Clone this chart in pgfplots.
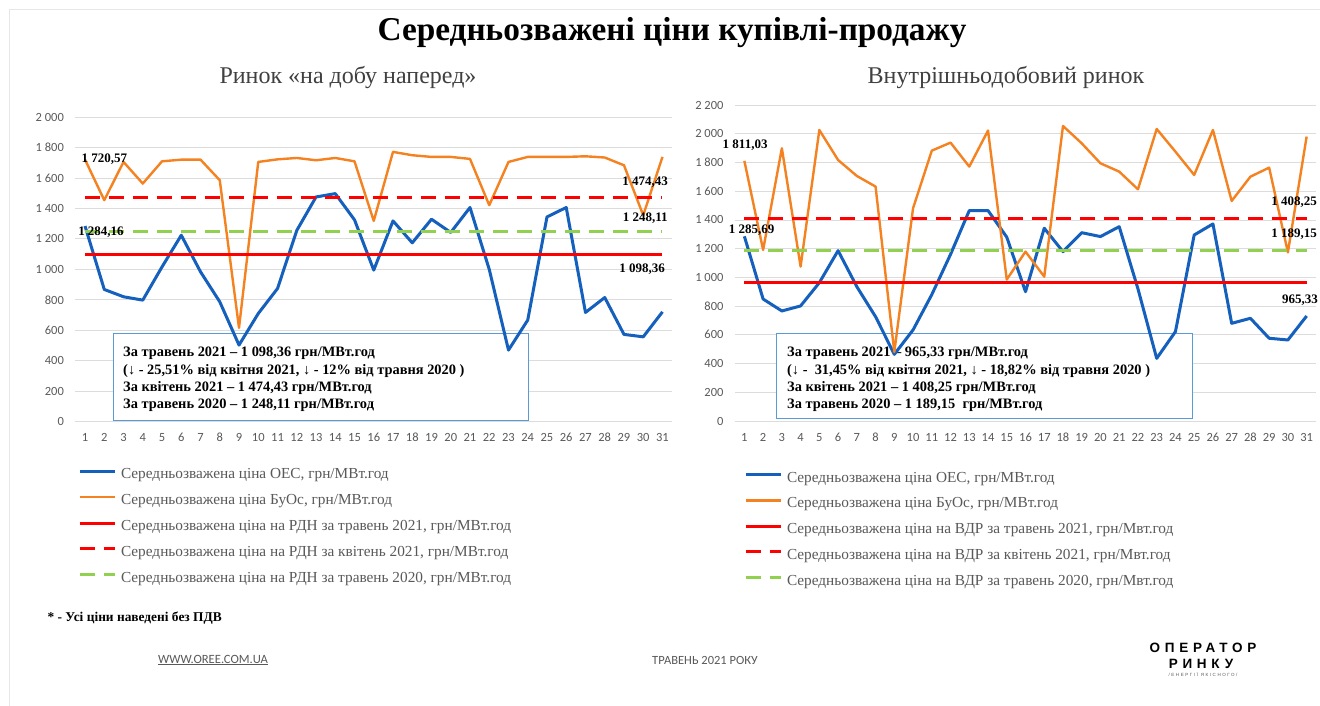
\documentclass[border=0pt]{standalone}
\usepackage{fontspec}
\setmainfont{Liberation Serif}
\newfontfamily\tickfont{Carlito}
\newfontfamily\footfont{Carlito}
\newfontfamily\logofont[LetterSpace=35]{Liberation Sans}
\usepackage{pgfplots}
\usepackage{pgfplotstable}
\pgfplotsset{compat=1.18}
\definecolor{oes}{RGB}{21,96,189}
\definecolor{buos}{RGB}{245,130,32}
\definecolor{redl}{RGB}{255,0,0}
\definecolor{greenl}{RGB}{146,208,80}
\definecolor{gridc}{RGB}{220,220,220}
\definecolor{tickc}{RGB}{89,89,89}
\definecolor{boxc}{RGB}{91,155,213}

\pgfplotstableread{
day oes buos
1 1284.16 1720.57
2 868 1454
3 820 1705
4 798 1563
5 1016 1709
6 1224 1720
7 984 1720
8 787 1585
9 503 616
10 710 1705
11 874 1722
12 1255 1731
13 1475 1716
14 1497 1731
15 1325 1709
16 995 1318
17 1318 1771
18 1174 1749
19 1329 1738
20 1242 1738
21 1406 1725
22 1000 1421
23 470 1705
24 667 1738
25 1344 1738
26 1406 1738
27 717 1742
28 815 1734
29 573 1683
30 557 1355
31 721 1738
}\rdn

\pgfplotstableread{
day oes buos
1 1285.69 1811.03
2 849 1191
3 766 1899
4 801 1075
5 963 2026
6 1186 1817
7 935 1706
8 726 1632
9 464 480
10 634 1481
11 880 1882
12 1160 1938
13 1465 1771
14 1465 2022
15 1280 985
16 900 1179
17 1342 1005
18 1179 2054
19 1311 1933
20 1284 1794
21 1353 1736
22 920 1613
23 436 2033
24 622 1875
25 1295 1713
26 1372 2026
27 680 1532
28 715 1701
29 576 1764
30 564 1174
31 731 1980
}\vdr

\tikzset{lab/.style={font=\bfseries\fontsize{13}{13}\selectfont, inner sep=0pt}}
\pgfplotsset{
  mystyle/.style={
    scale only axis,
    xmin=0.5, xmax=31.5, ymin=0,
    axis line style={draw=none},
    major tick length=0pt,
    ymajorgrids, grid style={draw=gridc, line width=0.8pt},
    xtick={1,...,31},
    tick label style={font=\tickfont\fontsize{12.5}{12.5}\selectfont, text=tickc},
    /pgf/number format/assume math mode=true,
    /pgf/number format/1000 sep={\ },
    yticklabel style={xshift=-8pt},
    xticklabel style={yshift=-8.5pt, text height=8pt, text depth=0pt},
    clip=false,
    legend cell align=left,
    legend style={draw=none, fill=none, inner sep=0pt, outer sep=0pt,
      font=\fontsize{15.3}{17}\selectfont, text=tickc,
      nodes={inner sep=0pt, text height=10.5pt, text depth=3pt},
      row sep=12.3pt,
      /tikz/every odd column/.append style={column sep=5pt}},
    legend image code/.code={\draw[##1] (0pt,3.8pt) -- (35pt,3.8pt);},
    every axis plot/.append style={line join=round},
  },
}

\begin{document}
\begin{tikzpicture}
\fill[white] (0pt,0pt) rectangle (1320pt,706pt);
\draw[gridc!70, line width=1pt] (9pt,0pt) -- (9pt,696pt) -- (1320pt,696pt);

\node[font=\bfseries\fontsize{33.3}{33.3}\selectfont] at (672pt,673pt) {Середньозважені ціни купівлі-продажу};
\node[font=\fontsize{24}{24}\selectfont, text=black!75] at (348pt,628pt) {Ринок «на добу наперед»};
\node[font=\fontsize{24}{24}\selectfont, text=black!75] at (1006pt,628pt) {Внутрішньодобовий ринок};

% LEFT
\begin{axis}[mystyle, at={(75.4pt,284.3pt)}, anchor=south west,
  width=596.7pt, height=304.7pt, ymax=2000, ytick={0,200,...,2000},
  legend style={at={(axis description cs:0.0044,-0.1536)}, anchor=north west}]
\draw[boxc, fill=white, line width=0.9pt] (rel axis cs:0.063,0.0056) rectangle (rel axis cs:0.7585,0.291);
\node[anchor=north west, inner sep=0pt, align=left, font=\bfseries\fontsize{14.4}{17.4}\selectfont] at (rel axis cs:0.0798,0.2455)
 {За травень 2021 – 1 098,36 грн/МВт.год\\
  (↓ - 25,51\% від квітня 2021, ↓ - 12\% від травня 2020 )\\
  За квітень 2021 – 1 474,43 грн/МВт.год\\
  За травень 2020 – 1 248,11 грн/МВт.год};
\addplot[oes, line width=3pt] table[x=day,y=oes]{\rdn};
\addlegendentry{Середньозважена ціна ОЕС, грн/МВт.год}
\addplot[buos, line width=2.4pt] table[x=day,y=buos]{\rdn};
\addlegendentry{Середньозважена ціна БуОс, грн/МВт.год}
\addplot[redl, line width=3pt] coordinates {(1,1098.36) (31,1098.36)};
\addlegendentry{Середньозважена ціна на РДН за травень 2021, грн/МВт.год}
\addplot[redl, line width=3pt, dash pattern=on 15pt off 9pt] coordinates {(1,1474.43) (31,1474.43)};
\addlegendentry{Середньозважена ціна на РДН за квітень 2021, грн/МВт.год}
\addplot[greenl, line width=3pt, dash pattern=on 15pt off 9pt] coordinates {(1,1248.11) (31,1248.11)};
\addlegendentry{Середньозважена ціна на РДН за травень 2020, грн/МВт.год}
\node[lab] at (axis cs:2.0,1724) {1 720,57};
\node[lab] at (axis cs:1.83,1245) {1 284,16};
\node[lab] at (axis cs:30.1,1573) {1 474,43};
\node[lab] at (axis cs:30.1,1337) {1 248,11};
\node[lab] at (axis cs:29.94,1002) {1 098,36};
\end{axis}

% RIGHT
\begin{axis}[mystyle, at={(735pt,285pt)}, anchor=south west,
  width=581pt, height=316pt, ymax=2200, ytick={0,200,...,2200},
  legend style={at={(axis description cs:0.0155,-0.160)}, anchor=north west}]
\draw[boxc, fill=white, line width=0.9pt] (rel axis cs:0.0706,0.0095) rectangle (rel axis cs:0.7866,0.2785);
\node[anchor=north west, inner sep=0pt, align=left, font=\bfseries\fontsize{14.4}{17.4}\selectfont] at (rel axis cs:0.0895,0.2345)
 {За травень 2021 – 965,33 грн/МВт.год\\
  (↓ -\ \ 31,45\% від квітня 2021, ↓ - 18,82\% від травня 2020 )\\
  За квітень 2021 – 1 408,25 грн/МВт.год\\
  За травень 2020 – 1 189,15\ \ грн/МВт.год};
\addplot[oes, line width=3pt] table[x=day,y=oes]{\vdr};
\addlegendentry{Середньозважена ціна ОЕС, грн/МВт.год}
\addplot[buos, line width=2.4pt] table[x=day,y=buos]{\vdr};
\addlegendentry{Середньозважена ціна БуОс, грн/МВт.год}
\addplot[redl, line width=3pt] coordinates {(1,965.33) (31,965.33)};
\addlegendentry{Середньозважена ціна на ВДР за травень 2021, грн/Мвт.год}
\addplot[redl, line width=3pt, dash pattern=on 15pt off 9pt] coordinates {(1,1408.25) (31,1408.25)};
\addlegendentry{Середньозважена ціна на ВДР за квітень 2021, грн/Мвт.год}
\addplot[greenl, line width=3pt, dash pattern=on 15pt off 9pt] coordinates {(1,1189.15) (31,1189.15)};
\addlegendentry{Середньозважена ціна на ВДР за травень 2020, грн/Мвт.год}
\node[lab] at (axis cs:1.04,1921) {1 811,03};
\node[lab] at (axis cs:1.39,1330) {1 285,69};
\node[lab] at (axis cs:30.33,1525) {1 408,25};
\node[lab] at (axis cs:30.33,1302) {1 189,15};
\node[lab] at (axis cs:30.64,842) {965,33};
\end{axis}

\node[anchor=west, font=\bfseries\fontsize{13.4}{13.4}\selectfont] at (44pt,88pt) {* - Усі ціни наведені без ПДВ};
\node[font=\footfont\fontsize{12.6}{12.6}\selectfont, text=tickc] at (213pt,46pt) {\underline{WWW.OREE.COM.UA}};
\node[font=\footfont\fontsize{12.5}{12.5}\selectfont, text=tickc] at (705pt,46pt) {ТРАВЕНЬ 2021 РОКУ};
\node[font=\logofont\bfseries\fontsize{13.5}{13.5}\selectfont] at (1203pt,58pt) {ОПЕРАТОР};
\node[font=\logofont\bfseries\fontsize{13.5}{13.5}\selectfont] at (1201pt,42pt) {РИНКУ};
\node[font=\logofont\fontsize{4.5}{5}\selectfont, text=tickc] at (1203pt,31pt) {/ЕНЕРГІЇ ЯКІСНОГО/};
\pgfresetboundingbox
\path[use as bounding box] (0pt,0pt) rectangle (1320pt,706pt);
\end{tikzpicture}
\end{document}
